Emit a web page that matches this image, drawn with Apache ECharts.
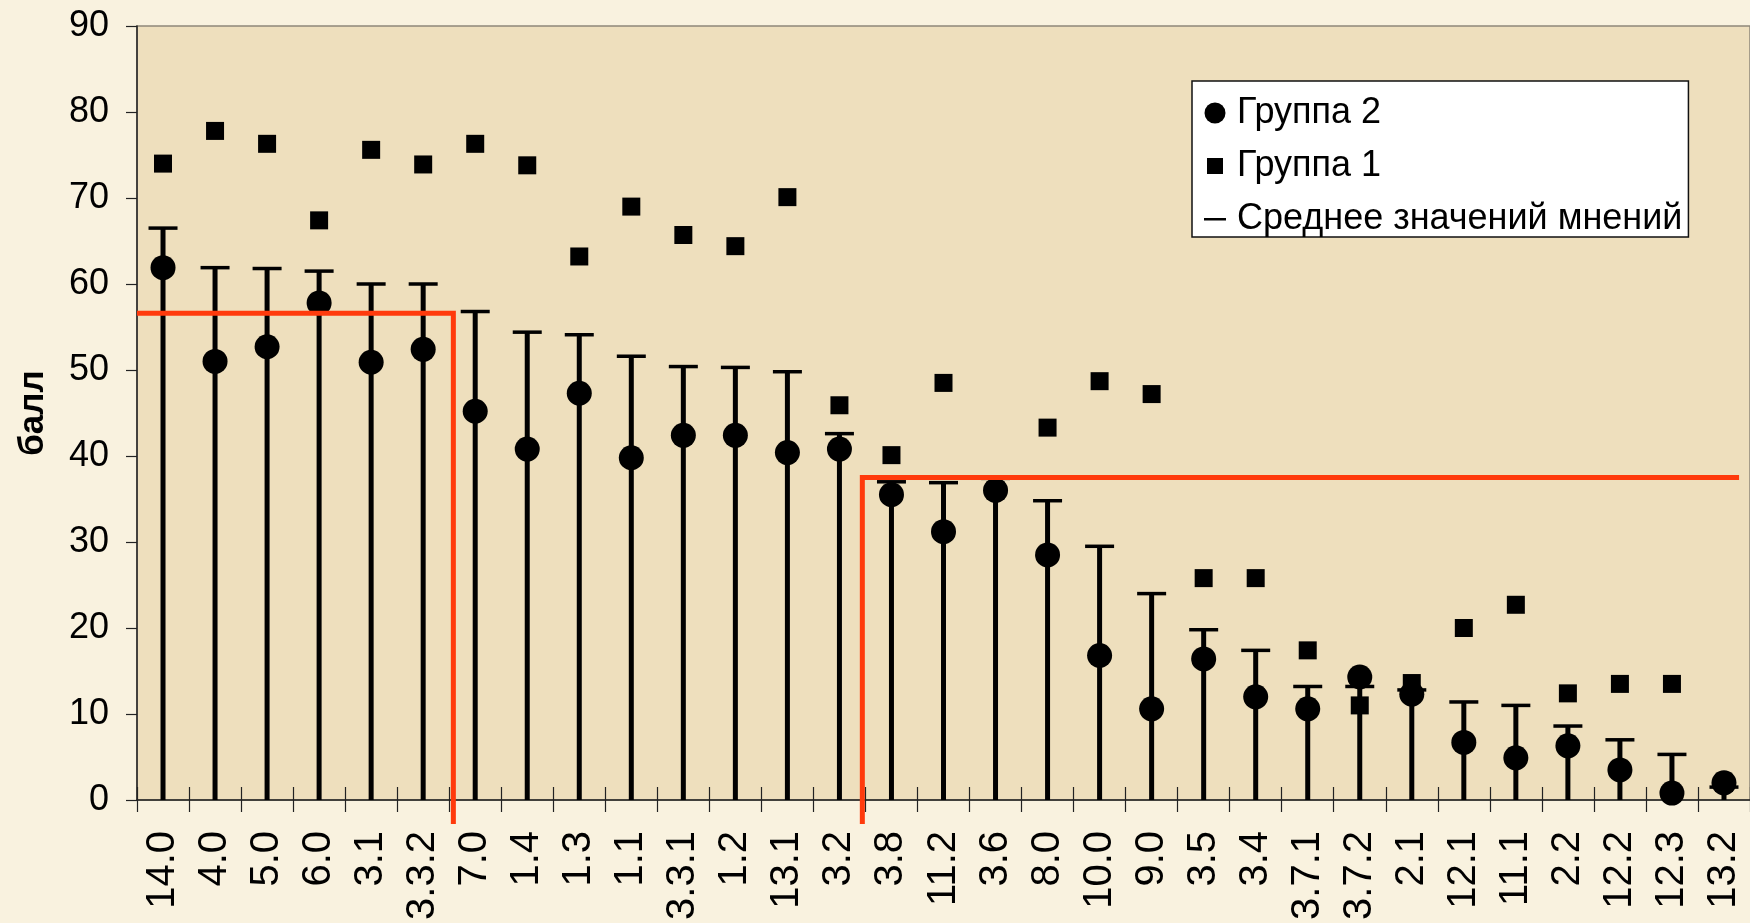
<!DOCTYPE html>
<html>
<head>
<meta charset="utf-8">
<script src="https://cdn.jsdelivr.net/npm/echarts@6/dist/echarts.min.js"></script>
<style>
  html, body {
    margin: 0;
    padding: 0;
    background: #f9f2df;
  }
  #chart {
    width: 1750px;
    height: 923px;
  }
</style>
</head>
<body>
<div id="chart"></div>
<script>
// категории (номера вопросов)
const categories = ['14.0', '4.0', '5.0', '6.0', '3.1', '3.3.2', '7.0', '1.4', '1.3', '1.1',
  '3.3.1', '1.2', '13.1', '3.2', '3.8', '11.2', '3.6', '8.0', '10.0', '9.0',
  '3.5', '3.4', '3.7.1', '3.7.2', '2.1', '12.1', '11.1', '2.2', '12.2', '12.3', '13.2']

// Группа 1 (квадраты)
const group1 = [74.0, 77.8, 76.3, 67.4, 75.6, 73.9, 76.3, 73.8, 63.2, 69.0,
  65.7, 64.4, 70.1, 45.9, 40.1, 48.5, 36.0, 43.3, 48.7, 47.2,
  25.8, 25.8, 17.4, 11.0, 13.6, 20.0, 22.7, 12.4, 13.5, 13.5, 2.0]

// Группа 2 (круги)
const group2 = [61.9, 51.0, 52.7, 57.8, 50.9, 52.4, 45.2, 40.8, 47.3, 39.8,
  42.4, 42.4, 40.4, 40.8, 35.5, 31.2, 36.0, 28.5, 16.8, 10.6,
  16.4, 12.0, 10.6, 14.3, 12.3, 6.7, 4.9, 6.3, 3.5, 0.8, 2.0]

// Среднее значений мнений (столбик с засечкой)
const avgValues = [66.5, 61.9, 61.8, 61.5, 60.0, 60.0, 56.8, 54.4, 54.1, 51.6,
  50.4, 50.3, 49.8, 42.6, 37.0, 36.9, 37.4, 34.8, 29.5, 24.0,
  19.8, 17.4, 13.2, 13.2, 12.8, 11.4, 11.0, 8.6, 7.0, 5.3, 1.5]

// красные линии уровня (x в долях категорий, y в баллах)
const levelLine1 = [[0, 56.6], [6.08, 56.6], [6.08, -2.8]]
const levelLine2 = [[13.94, -2.8], [13.94, 37.5], [30.79, 37.5]]

const yTicks = { min: 0, max: 90, interval: 10 }

const FONT = "'Liberation Sans', Arial, sans-serif"
const RED = '#ff3a0c'

const chart = echarts.init(document.getElementById('chart'))

const option = {
  animation: false,
  grid: {
    left: 137,
    right: 0,
    top: 26,
    bottom: 123,
    show: true,
    backgroundColor: '#eedfbd',
    borderColor: '#8e887a',
    borderWidth: 1.5
  },
  legend: {
    orient: 'vertical',
    left: 1192,
    top: 81,
    padding: [14, 6, 0, 6],
    itemGap: 17,
    itemWidth: 34,
    itemHeight: 21,
    backgroundColor: '#ffffff',
    borderColor: '#111',
    borderWidth: 1.5,
    selectedMode: false,
    textStyle: {
      fontFamily: FONT,
      fontSize: 36,
      lineHeight: 34,
      color: '#000'
    },
    data: [
      { name: 'Группа 2', icon: 'circle' },
      { name: 'Группа 1', icon: 'path://M0,0M34,21M9,2.5H25V18.5H9Z' },
      { name: 'Среднее значений мнений', icon: 'path://M0,0M34,21M6,9.5H28V12H6Z' }
    ]
  },
  xAxis: [
    {
      type: 'category',
      data: categories,
      position: 'bottom',
      axisLine: { lineStyle: { color: '#222', width: 1.5 } },
      axisTick: { show: true, length: 12, lineStyle: { color: '#222', width: 1.2 } },
      axisLabel: {
        interval: 0,
        rotate: 90,
        margin: 31,
        fontFamily: FONT,
        fontSize: 40,
        color: '#000'
      },
      splitLine: { show: false }
    },
    {
      type: 'category',
      data: categories,
      position: 'bottom',
      axisLine: { show: false },
      axisTick: { show: true, inside: true, length: 13, lineStyle: { color: '#222', width: 1.2 } },
      axisLabel: { show: false },
      splitLine: { show: false }
    },
    {
      type: 'value',
      min: 0,
      max: categories.length,
      show: false
    }
  ],
  yAxis: {
    type: 'value',
    min: yTicks.min,
    max: yTicks.max,
    interval: yTicks.interval,
    name: 'балл',
    nameLocation: 'middle',
    nameGap: 86,
    nameTextStyle: {
      fontFamily: FONT,
      fontSize: 35,
      fontWeight: 'bold',
      color: '#000'
    },
    axisLine: { show: true, lineStyle: { color: '#222', width: 1.5 } },
    axisTick: { show: true, length: 11, lineStyle: { color: '#222', width: 1.2 } },
    axisLabel: {
      margin: 28,
      fontFamily: FONT,
      fontSize: 36,
      color: '#000'
    },
    splitLine: { show: false }
  },
  series: [
    {
      name: 'stem',
      type: 'bar',
      xAxisIndex: 0,
      data: avgValues,
      barWidth: 5,
      itemStyle: { color: '#000', opacity: 1 },
      z: 2
    },
    {
      name: 'Среднее значений мнений',
      type: 'scatter',
      xAxisIndex: 0,
      data: avgValues,
      symbol: 'rect',
      symbolSize: [29, 3.5],
      itemStyle: { color: '#000', opacity: 1 },
      z: 3
    },
    {
      name: 'Группа 1',
      type: 'scatter',
      xAxisIndex: 0,
      data: group1,
      symbol: 'rect',
      symbolSize: 18,
      itemStyle: { color: '#000', opacity: 1 },
      z: 4
    },
    {
      name: 'Группа 2',
      type: 'scatter',
      xAxisIndex: 0,
      data: group2,
      symbol: 'circle',
      symbolSize: 25,
      itemStyle: { color: '#000', opacity: 1 },
      z: 5
    },
    {
      name: 'level1',
      type: 'line',
      xAxisIndex: 2,
      data: levelLine1,
      symbol: 'none',
      clip: false,
      lineStyle: { color: RED, width: 5, join: 'miter' },
      z: 6
    },
    {
      name: 'level2',
      type: 'line',
      xAxisIndex: 2,
      data: levelLine2,
      symbol: 'none',
      clip: false,
      lineStyle: { color: RED, width: 5, join: 'miter' },
      z: 6
    }
  ]
}

chart.setOption(option)
</script>
</body>
</html>
